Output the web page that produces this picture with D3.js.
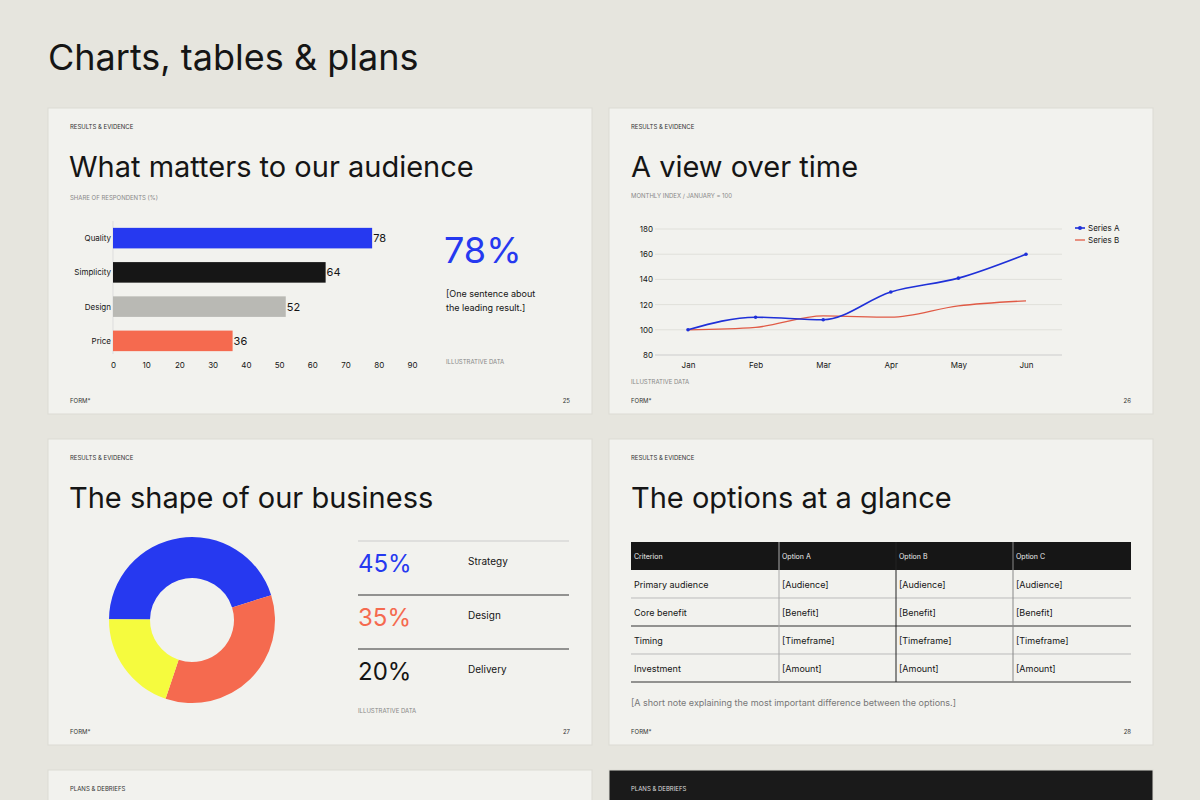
<!DOCTYPE html>
<html><head><meta charset="utf-8">
<script src="https://cdn.jsdelivr.net/npm/d3@7"></script>
<style>body{margin:0;background:#e6e5de;font-family:Inter,"Noto Sans",sans-serif;}</style>
</head><body>
<svg id="c" width="1200" height="800"></svg>
<script>
const barCats=["Quality","Simplicity","Design","Price"];
const barVals=[78,64,52,36];
const barColors=["#2639f0","#161616","#b9b9b4","#f56a4f"];
const xTicks=[0,10,20,30,40,50,60,70,80,90];
const months=["Jan","Feb","Mar","Apr","May","Jun"];
const seriesA=[100,110,108,130,141,160];
const seriesB=[100,102,111,110,119,123];
const yTicks=[80,100,120,140,160,180];
const donutLabels=["Strategy","Design","Delivery"];
const donutVals=[45,35,20];
const donutColors=["#2639f0","#f56a4f","#f5fb3e"];
const tableHead=["Criterion","Option A","Option B","Option C"];
const tableRows=[["Primary audience","[Audience]","[Audience]","[Audience]"],["Core benefit","[Benefit]","[Benefit]","[Benefit]"],["Timing","[Timeframe]","[Timeframe]","[Timeframe]"],["Investment","[Amount]","[Amount]","[Amount]"]];

const svg=d3.select("#c");
const ink="#151515";
svg.append("text").attr("x",48).attr("y",70).attr("font-size",36).attr("fill",ink).text("Charts, tables & plans");

function card(x,y,w,h,dark){
  svg.append("rect").attr("x",x).attr("y",y).attr("width",w).attr("height",h).attr("fill",dark?"#1a1a1a":"#f2f2ee").attr("stroke","#dcdbd4");
}
function small(x,y,t,fill,anchor){svg.append("text").attr("x",x).attr("y",y).attr("font-size",6).attr("fill",fill||"#333").attr("text-anchor",anchor||"start").text(t);}
card(48,108,544,306);card(609,108,544,306);card(48,439,544,306);card(609,439,544,306);
card(48,770,544,40);card(609,770,544,40,true);
[[70,129,"RESULTS & EVIDENCE",1],[631,129,"RESULTS & EVIDENCE",1],[70,460,"RESULTS & EVIDENCE",1],[631,460,"RESULTS & EVIDENCE",1]].forEach(d=>small(d[0],d[1],d[2]));
small(70,791,"PLANS & DEBRIEFS");small(631,791,"PLANS & DEBRIEFS","#ddd");
[[70,403,"25"],[631,403,"26"],[70,734,"27"],[631,734,"28"]].forEach(d=>{small(d[0],d[1],"FORM*");small(d[0]+500,d[1],d[2],"#333","end");});
function title(x,y,t){svg.append("text").attr("x",x).attr("y",y).attr("font-size",29).attr("fill",ink).text(t);}
title(69,177,"What matters to our audience");title(631,177,"A view over time");
title(69,508,"The shape of our business");title(631,508,"The options at a glance");

// Bar chart
small(70,200,"SHARE OF RESPONDENTS (%)","#888");
const x=d3.scaleLinear().domain([0,90]).range([113,412]);
const y=d3.scaleBand().domain(barCats).range([221,358]).paddingInner(0.4).paddingOuter(0.2);
svg.append("line").attr("x1",113).attr("x2",113).attr("y1",221).attr("y2",354).attr("stroke","#ddd");
barCats.forEach((c,i)=>{
  svg.append("rect").attr("x",x(0)).attr("y",y(c)).attr("width",x(barVals[i])-x(0)).attr("height",y.bandwidth()).attr("fill",barColors[i]);
  svg.append("text").attr("x",x(barVals[i])+1).attr("y",y(c)+y.bandwidth()/2+4).attr("font-size",11).attr("fill",ink).text(barVals[i]);
  svg.append("text").attr("x",111).attr("y",y(c)+y.bandwidth()/2+3).attr("font-size",8).attr("text-anchor","end").attr("fill",ink).text(c);
});
const xa=svg.append("g").attr("transform","translate(0,358)").call(d3.axisBottom(x).tickValues(xTicks).tickSize(0).tickPadding(4));
xa.select(".domain").remove();xa.selectAll("text").attr("font-size",8).attr("fill",ink).attr("font-family","Inter");
svg.append("text").attr("x",444).attr("y",263).attr("font-size",36).attr("fill","#2639f0").text("78%");
svg.append("text").attr("x",446).attr("y",297).attr("font-size",9).attr("fill",ink).text("[One sentence about");
svg.append("text").attr("x",446).attr("y",311).attr("font-size",9).attr("fill",ink).text("the leading result.]");
small(446,364,"ILLUSTRATIVE DATA","#888");

// Line chart
small(631,198,"MONTHLY INDEX / JANUARY = 100","#888");
const lx=d3.scalePoint().domain(months).range([688,1026]);
const ly=d3.scaleLinear().domain([80,180]).range([355,229]);
yTicks.forEach(t=>svg.append("line").attr("x1",655).attr("x2",1062).attr("y1",ly(t)).attr("y2",ly(t)).attr("stroke",t==80?"#ccc":"#e0e0da"));
const ya=svg.append("g").attr("transform","translate(653,0)").call(d3.axisLeft(ly).tickValues(yTicks).tickSize(0).tickPadding(0));
ya.select(".domain").remove();ya.selectAll("text").attr("font-size",8).attr("fill",ink).attr("font-family","Inter");
const xa2=svg.append("g").attr("transform","translate(0,358)").call(d3.axisBottom(lx).tickSize(0).tickPadding(4));
xa2.select(".domain").remove();xa2.selectAll("text").attr("font-size",8).attr("fill",ink).attr("font-family","Inter");
const line=d3.line().x((d,i)=>lx(months[i])).y(d=>ly(d)).curve(d3.curveMonotoneX);
svg.append("path").attr("d",line(seriesB)).attr("fill","none").attr("stroke","#e05a45").attr("stroke-width",1.3);
svg.append("path").attr("d",line(seriesA)).attr("fill","none").attr("stroke","#1f30d8").attr("stroke-width",1.6);
seriesA.forEach((v,i)=>svg.append("circle").attr("cx",lx(months[i])).attr("cy",ly(v)).attr("r",1.8).attr("fill","#1f30d8"));
svg.append("line").attr("x1",1075).attr("x2",1085).attr("y1",228).attr("y2",228).attr("stroke","#1f30d8").attr("stroke-width",1.6);
svg.append("circle").attr("cx",1080).attr("cy",228).attr("r",2).attr("fill","#1f30d8");
svg.append("line").attr("x1",1075).attr("x2",1085).attr("y1",240).attr("y2",240).attr("stroke","#e05a45").attr("stroke-width",1.3);
svg.append("text").attr("x",1088).attr("y",231).attr("font-size",8).attr("fill",ink).text("Series A");
svg.append("text").attr("x",1088).attr("y",243).attr("font-size",8).attr("fill",ink).text("Series B");
small(631,384,"ILLUSTRATIVE DATA","#888");

// Donut
const pie=d3.pie().sort(null).startAngle(-Math.PI/2+0.01).endAngle(1.5*Math.PI+0.01)(donutVals);
const arc=d3.arc().innerRadius(42).outerRadius(83);
svg.append("g").attr("transform","translate(192,620)").selectAll("path").data(pie).join("path").attr("d",arc).attr("fill",(d,i)=>donutColors[i]);
const valColors=["#2639f0","#f56a4f",ink];
donutLabels.forEach((l,i)=>{
  const yy=541+i*54;
  svg.append("line").attr("x1",358).attr("x2",569).attr("y1",yy).attr("y2",yy).attr("stroke",i==0?"#ccc":"#333");
  svg.append("text").attr("x",358).attr("y",yy+31).attr("font-size",24).attr("fill",valColors[i]).text(donutVals[i]+"%");
  svg.append("text").attr("x",468).attr("y",yy+24).attr("font-size",10).attr("fill",ink).text(l);
});
small(358,713,"ILLUSTRATIVE DATA","#888");

// Table
const cols=[631,779,896,1013,1131];
svg.append("rect").attr("x",631).attr("y",542).attr("width",500).attr("height",28).attr("fill","#161616");
tableHead.forEach((h,i)=>svg.append("text").attr("x",cols[i]+3).attr("y",559).attr("font-size",7).attr("fill","#eee").text(h));
tableRows.forEach((r,ri)=>{
  const yy=570+ri*28;
  r.forEach((c,ci)=>svg.append("text").attr("x",cols[ci]+3).attr("y",yy+18).attr("font-size",9).attr("fill",ink).text(c));
  svg.append("line").attr("x1",631).attr("x2",1131).attr("y1",yy+28).attr("y2",yy+28).attr("stroke",ri==1||ri==3?"#333":"#bbb");
});
[[779,"#aaa"],[896,"#222"],[1013,"#888"]].forEach(d=>svg.append("line").attr("x1",d[0]).attr("x2",d[0]).attr("y1",542).attr("y2",682).attr("stroke",d[1]));
svg.append("text").attr("x",631).attr("y",706).attr("font-size",9).attr("fill","#777").text("[A short note explaining the most important difference between the options.]");
</script></body></html>
